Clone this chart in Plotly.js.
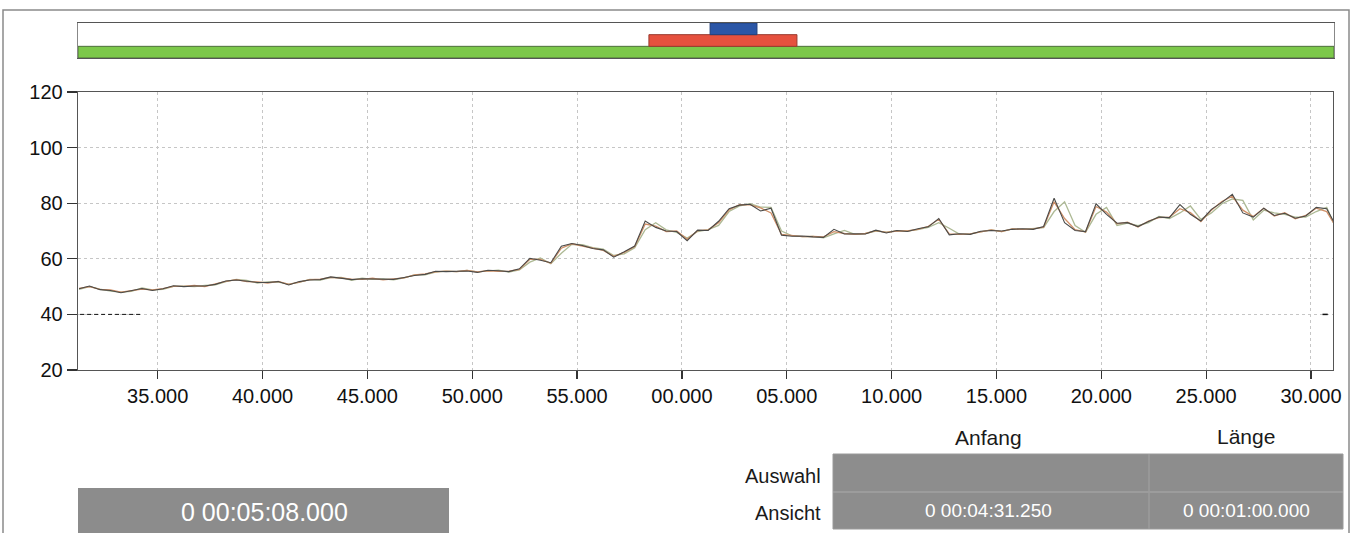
<!DOCTYPE html>
<html>
<head>
<meta charset="utf-8">
<script src="https://cdn.plot.ly/plotly-3.0.1.min.js"></script>
<style>
  html, body { margin: 0; padding: 0; background: #ffffff; }
  #chart { width: 1359px; height: 533px; }
</style>
</head>
<body>
<div id="chart"></div>
<script>
// ---- data (seconds within the minute; 60 = next minute "00.000") ----
const tStart = 31.25;          // first sample time (s)
const tStep = 0.5;             // sampling step (s)

const darkSeries = [
  49.2,50.2,48.9,48.6,47.8,48.5,49.3,48.6,49.2,50.3,
  50.0,50.2,50.2,50.8,52.0,52.4,52.0,51.5,51.5,51.8,
  50.6,51.8,52.4,52.5,53.5,53.0,52.5,52.8,52.8,52.6,
  52.6,53.3,54.0,54.4,55.5,55.4,55.6,55.6,55.1,55.9,
  55.7,55.4,56.4,60.2,59.5,58.6,64.5,65.5,64.8,63.7,
  63.2,60.6,62.5,64.6,73.6,71.3,70.0,69.8,66.5,70.3,
  70.2,73.5,78.0,79.3,79.6,77.2,78.2,68.5,68.1,68.2,
  67.9,67.7,70.6,68.9,69.0,68.9,70.3,69.3,70.2,69.8,
  70.8,71.5,74.5,68.6,69.0,68.8,69.9,70.2,70.0,70.6,
  70.8,70.6,71.6,81.8,73.0,70.2,69.8,79.8,76.0,72.8,
  73.0,71.6,73.4,75.0,74.8,79.5,76.0,73.6,77.8,80.3,
  83.2,76.5,75.0,78.2,75.6,76.4,74.6,75.4,78.5,78.0,
  71.0
];

const lightSeries = [
  49.0,50.0,49.1,48.4,48.0,48.3,49.5,48.8,49.0,50.1,
  50.2,50.0,50.4,50.6,51.8,52.6,52.2,51.3,51.7,51.6,
  50.9,51.5,52.6,52.3,53.2,53.3,52.3,53.0,52.6,52.8,
  52.4,53.1,54.2,54.2,55.2,55.6,55.4,55.8,55.3,55.6,
  55.9,55.2,56.0,58.8,60.3,58.2,62.0,65.2,65.1,64.0,
  63.5,61.2,61.8,64.0,70.5,73.0,70.4,69.5,67.5,69.8,
  70.5,72.0,77.0,79.0,79.8,78.6,78.5,70.0,68.3,68.0,
  68.1,67.5,69.0,70.2,68.8,69.1,70.0,69.6,70.0,70.0,
  70.5,71.3,73.0,71.0,68.8,69.0,69.6,70.4,69.8,70.8,
  70.6,70.9,71.2,77.0,80.5,72.0,69.5,76.0,78.5,72.0,
  72.8,71.9,73.0,75.2,74.5,76.5,79.0,74.2,76.5,79.8,
  81.5,81.0,74.0,77.5,76.5,76.0,75.0,75.0,77.0,78.5,
  70.0
];

const orangeSeries = [
  49.4,50.0,49.0,48.8,48.0,48.6,49.1,48.8,49.3,50.1,
  50.1,50.4,50.0,51.0,51.9,52.5,51.8,51.7,51.3,51.9,
  50.8,51.6,52.5,52.7,53.3,53.1,52.7,52.6,53.0,52.4,
  52.8,53.1,54.2,54.6,55.3,55.6,55.4,55.8,55.3,55.7,
  55.5,55.6,56.2,59.8,59.8,58.4,63.8,65.4,64.6,63.9,
  63.0,60.9,62.3,64.4,72.5,71.8,69.8,70.0,67.0,70.1,
  70.4,73.0,77.6,79.5,79.4,78.3,76.5,68.8,68.3,68.0,
  68.1,67.9,69.8,69.1,68.8,69.1,70.1,69.5,70.0,70.0,
  70.6,71.7,74.2,69.0,68.8,69.0,69.7,70.4,69.8,70.8,
  70.6,70.8,71.4,80.5,74.5,70.5,69.6,78.8,76.8,72.6,
  73.2,71.4,73.6,74.8,75.0,78.0,76.6,73.4,77.5,80.6,
  82.5,77.5,75.2,78.2,75.4,76.6,74.4,75.6,78.2,77.0,
  70.8
];

// threshold markers at 40
const limitLeftX = [31.3, 34.3];
const limitLeftY = [40, 40];
const limitRightX = [90.55, 90.8];
const limitRightY = [40, 40];

// x tick positions and labels
const xTickVals = [35, 40, 45, 50, 55, 60, 65, 70, 75, 80, 85, 90];
const xTickText = ["35.000","40.000","45.000","50.000","55.000","00.000","05.000","10.000","15.000","20.000","25.000","30.000"];
const yTickVals = [20, 40, 60, 80, 100, 120];

// overview bar (whole recording, seconds)
const totalLength = 308;
const segLane  = [0, 1, 2];
const segStart = [0, 140, 155];
const segLen   = [308, 36.3, 11.5];

// info panel texts
const totalText = "0 00:05:08.000";
const colHeaders = ["Anfang", "Länge"];
const rowLabels = ["Auswahl", "Ansicht"];
const viewValues = ["0 00:04:31.250", "0 00:01:00.000"];

// ---- layout helpers ----
const W = 1359, H = 533;
const px = v => v / W;
const py = v => 1 - v / H;
const FONT = "Liberation Sans, Arial, sans-serif";

const traces = [
  { type: "scatter", mode: "lines", x0: tStart, dx: tStep, y: lightSeries,
    line: { color: "#adb994", width: 1.3 }, xaxis: "x", yaxis: "y", hoverinfo: "skip" },
  { type: "scatter", mode: "lines", x0: tStart, dx: tStep, y: orangeSeries,
    line: { color: "#d09068", width: 1.3 }, xaxis: "x", yaxis: "y", hoverinfo: "skip" },
  { type: "scatter", mode: "lines", x0: tStart, dx: tStep, y: darkSeries,
    line: { color: "#4a4a48", width: 1.1 }, xaxis: "x", yaxis: "y", hoverinfo: "skip" },
  { type: "scatter", mode: "lines", x: limitLeftX, y: limitLeftY,
    line: { color: "#111", width: 1, dash: "4px,3px" }, xaxis: "x", yaxis: "y", hoverinfo: "skip" },
  { type: "scatter", mode: "lines", x: limitRightX, y: limitRightY,
    line: { color: "#111", width: 1.5 }, xaxis: "x", yaxis: "y", hoverinfo: "skip" },
  { type: "bar", orientation: "h", y: segLane, x: segLen, base: segStart, width: 1,
    marker: { color: ["#7cc84a", "#e6513e", "#2b56a6"],
              line: { color: ["#4e6e3c", "#9a3a2e", "#22417c"], width: 1 } },
    xaxis: "x2", yaxis: "y2", hoverinfo: "skip" }
];

const annotations = [
  { text: totalText, x: px(264), y: py(512), xref: "paper", yref: "paper",
    xanchor: "center", yanchor: "middle", showarrow: false,
    font: { family: FONT, size: 25, color: "#ffffff" } },
  { text: colHeaders[0], x: px(988), y: py(437), xref: "paper", yref: "paper",
    xanchor: "center", yanchor: "middle", showarrow: false,
    font: { family: FONT, size: 21, color: "#1a1a1a" } },
  { text: colHeaders[1], x: px(1246), y: py(436), xref: "paper", yref: "paper",
    xanchor: "center", yanchor: "middle", showarrow: false,
    font: { family: FONT, size: 21, color: "#1a1a1a" } },
  { text: rowLabels[0], x: px(823), y: py(476), xref: "paper", yref: "paper",
    xanchor: "right", yanchor: "middle", showarrow: false,
    font: { family: FONT, size: 20, color: "#1a1a1a" } },
  { text: rowLabels[1], x: px(823), y: py(513), xref: "paper", yref: "paper",
    xanchor: "right", yanchor: "middle", showarrow: false,
    font: { family: FONT, size: 20, color: "#1a1a1a" } },
  { text: viewValues[0], x: px(988), y: py(511), xref: "paper", yref: "paper",
    xanchor: "center", yanchor: "middle", showarrow: false,
    font: { family: FONT, size: 19, color: "#ffffff" } },
  { text: viewValues[1], x: px(1246), y: py(510), xref: "paper", yref: "paper",
    xanchor: "center", yanchor: "middle", showarrow: false,
    font: { family: FONT, size: 19, color: "#ffffff" } }
];

const shapes = [
  // outer frame
  { type: "rect", xref: "paper", yref: "paper", x0: px(3), x1: px(1349), y0: -0.05, y1: py(10),
    line: { color: "#8a8a8a", width: 1.5 }, fillcolor: "rgba(0,0,0,0)", layer: "below" },
  // total length box
  { type: "rect", xref: "paper", yref: "paper", x0: px(78), x1: px(449), y0: -0.02, y1: py(488),
    line: { width: 0 }, fillcolor: "#8c8c8c", layer: "below" },
  // info table
  { type: "rect", xref: "paper", yref: "paper", x0: px(833), x1: px(1343), y0: py(529), y1: py(454),
    line: { color: "#9a9a9a", width: 1 }, fillcolor: "#8d8d8d", layer: "below" },
  { type: "line", xref: "paper", yref: "paper", x0: px(833), x1: px(1343), y0: py(492), y1: py(492),
    line: { color: "#a2a2a2", width: 1.5 }, layer: "below" },
  { type: "line", xref: "paper", yref: "paper", x0: px(1149), x1: px(1149), y0: py(529), y1: py(454),
    line: { color: "#9c9c9c", width: 1.5 }, layer: "below" }
];

const layout = {
  width: W, height: H,
  margin: { l: 0, r: 0, t: 0, b: 0 },
  paper_bgcolor: "#ffffff",
  plot_bgcolor: "#ffffff",
  showlegend: false,
  font: { family: FONT, size: 20, color: "#111" },
  xaxis: {
    domain: [px(78), px(1333)],
    range: [31.2, 91.05],
    tickmode: "array", tickvals: xTickVals, ticktext: xTickText,
    ticks: "outside", ticklen: 8, tickwidth: 1.2, tickcolor: "#333",
    showline: true, linecolor: "#555", linewidth: 1.3, mirror: true,
    showgrid: true, gridcolor: "#c6c6c6", griddash: "dot", gridwidth: 1,
    zeroline: false,
    tickfont: { family: FONT, size: 20, color: "#111" },
    anchor: "y"
  },
  yaxis: {
    domain: [1 - 370 / H, 1 - 92 / H],
    range: [20, 120],
    tickmode: "array", tickvals: yTickVals,
    ticks: "outside", ticklen: 10, tickwidth: 1.2, tickcolor: "#333",
    showline: true, linecolor: "#555", linewidth: 1.3, mirror: true,
    showgrid: true, gridcolor: "#c6c6c6", griddash: "dot", gridwidth: 1,
    zeroline: false,
    tickfont: { family: FONT, size: 20, color: "#111" },
    anchor: "x"
  },
  xaxis2: {
    domain: [px(78), px(1334)],
    range: [0, totalLength],
    showticklabels: false, ticks: "", showgrid: false, zeroline: false,
    showline: true, linecolor: "#555", linewidth: 1.3, mirror: true,
    anchor: "y2"
  },
  yaxis2: {
    domain: [1 - 58 / H, 1 - 23 / H],
    range: [-0.5, 2.5],
    showticklabels: false, ticks: "", showgrid: false, zeroline: false,
    showline: true, linecolor: "#888", linewidth: 1.2, mirror: true,
    anchor: "x2"
  },
  bargap: 0,
  shapes: shapes,
  annotations: annotations
};

Plotly.newPlot("chart", traces, layout, { staticPlot: true, displayModeBar: false });
</script>
</body>
</html>
